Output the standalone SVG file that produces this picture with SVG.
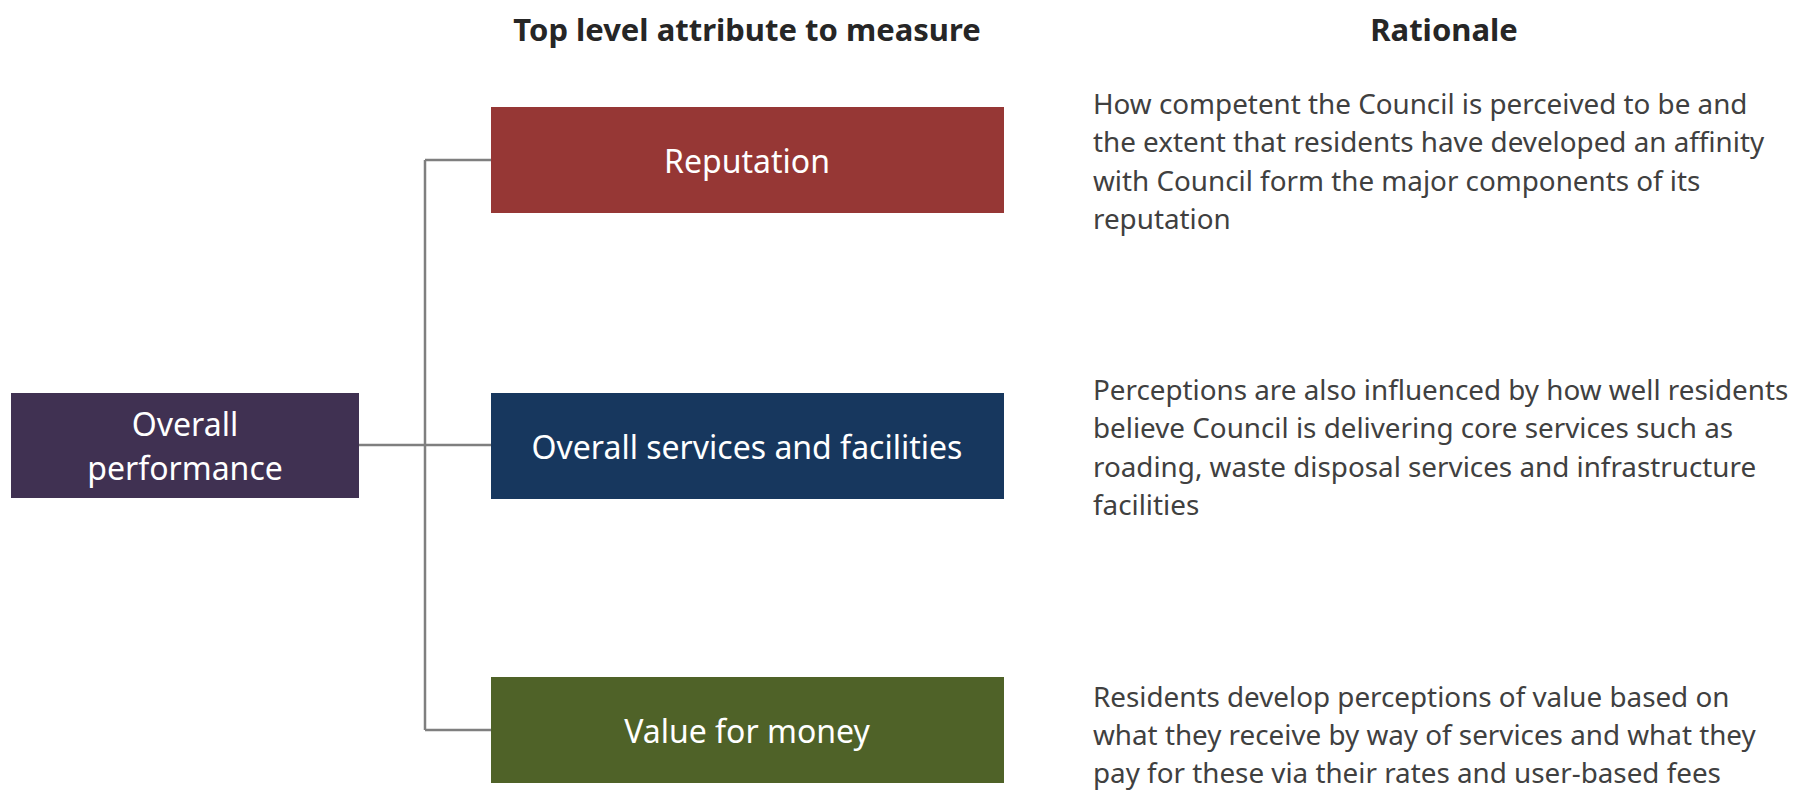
<svg xmlns="http://www.w3.org/2000/svg" width="1806" height="793" viewBox="0 0 1806 793">
<style>
.hdr{font-family:"Noto Sans","Open Sans",sans-serif;font-weight:bold;font-size:31px;fill:#262626;text-anchor:middle}
.lbl{font-family:"Noto Sans","Open Sans",sans-serif;font-size:32px;fill:#ffffff;text-anchor:middle}
.body{font-family:"Noto Sans","Open Sans",sans-serif;font-size:27.8px;fill:#404040}
.conn{fill:none;stroke:#7f7f7f;stroke-width:2.5}
</style>
<rect width="1806" height="793" fill="#ffffff"/>
<text class="hdr" x="747" y="41">Top level attribute to measure</text>
<text class="hdr" x="1444" y="41">Rationale</text>
<g id="connectors">
<path class="conn" d="M358 445 H425 M425 160 V730 M425 160 H491 M425 445 H491 M425 730 H491"/>
</g>
<g id="overall">
<rect x="11" y="393" width="348" height="105" fill="#403152"/>
<text class="lbl" x="185" y="436">Overall</text>
<text class="lbl" x="185" y="480">performance</text>
</g>
<g id="reputation">
<rect x="491" y="107" width="513" height="106" fill="#963735"/>
<text class="lbl" x="747" y="173">Reputation</text>
</g>
<g id="services">
<rect x="491" y="393" width="513" height="106" fill="#17375e"/>
<text class="lbl" x="747" y="459">Overall services and facilities</text>
</g>
<g id="value">
<rect x="491" y="677" width="513" height="106" fill="#4f6228"/>
<text class="lbl" x="747" y="743">Value for money</text>
</g>
<g id="rationale-reputation">
<text class="body" x="1093" y="114">How competent the Council is perceived to be and</text>
<text class="body" x="1093" y="152">the extent that residents have developed an affinity</text>
<text class="body" x="1093" y="191">with Council form the major components of its</text>
<text class="body" x="1093" y="229">reputation</text>
</g>
<g id="rationale-services">
<text class="body" x="1093" y="400">Perceptions are also influenced by how well residents</text>
<text class="body" x="1093" y="438">believe Council is delivering core services such as</text>
<text class="body" x="1093" y="477">roading, waste disposal services and infrastructure</text>
<text class="body" x="1093" y="515">facilities</text>
</g>
<g id="rationale-value">
<text class="body" x="1093" y="707">Residents develop perceptions of value based on</text>
<text class="body" x="1093" y="745">what they receive by way of services and what they</text>
<text class="body" x="1093" y="783">pay for these via their rates and user-based fees</text>
</g>
</svg>
